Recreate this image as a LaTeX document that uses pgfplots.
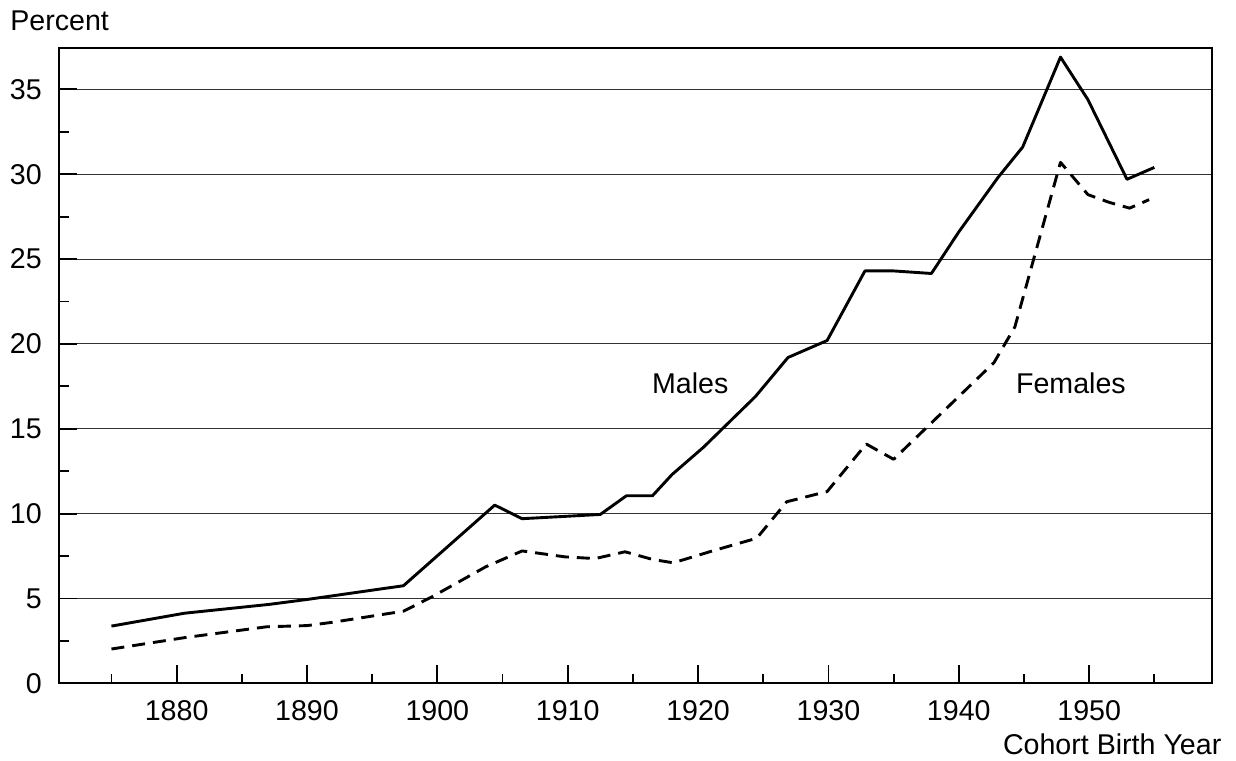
\documentclass[border=0pt]{standalone}
\usepackage{fontspec}
\setmainfont{Liberation Sans}
\usepackage{pgfplots}
\pgfplotsset{compat=1.18}
\begin{document}
\fontsize{14.3}{17}\selectfont
\begin{tikzpicture}
\begin{axis}[
  at={(0,0)}, anchor=south west,
  scale only axis, width=576.2pt, height=317.5pt,
  xmin=1871, xmax=1959.4, ymin=0, ymax=37.42,
  axis line style={line width=1pt},
  xtick={1880,1890,...,1950},
  minor xtick={1875,1885,...,1955},
  ytick={0,5,...,35},
  minor ytick={2.5,7.5,...,32.5},
  tick pos=left,
  tick align=inside,
  major tick length=9pt, minor tick length=4.6pt,
  tick style={black, line width=0.9pt},
  ymajorgrids=true,
  major grid style={black!80, line width=0.55pt},
  every tick label/.append style={inner sep=0pt, font=\fontsize{14.3}{17}\selectfont},
  /pgf/number format/assume math mode=true,
  x tick label style={/pgf/number format/1000 sep={}},
  xticklabel shift=8.3pt,
  yticklabel shift=8.6pt,
  clip=false,
]
\addplot[black, line width=1.45pt, line join=round] coordinates {
(1875,3.37) (1880.6,4.13) (1887.1,4.65) (1890,4.94) (1897.4,5.75)
(1904.4,10.5) (1906.5,9.7) (1912.5,9.95) (1914.5,11.05) (1916.5,11.05)
(1918,12.3) (1920.4,13.9) (1924.4,16.9) (1926.9,19.2) (1929.9,20.2)
(1932.8,24.3) (1935,24.3) (1937.9,24.15) (1940,26.6) (1943,29.8)
(1944.9,31.6) (1947.8,36.9) (1949.9,34.4) (1952.9,29.7) (1955,30.4)
};
\addplot[black, line width=1.45pt, line join=round, dash pattern=on 6.5pt off 4pt] coordinates {
(1875,2.02) (1880.6,2.69) (1886.9,3.33) (1890,3.4) (1892,3.6)
(1897.4,4.25) (1899.6,5.1) (1903.7,6.86) (1906.5,7.8) (1909.8,7.45)
(1912.1,7.35) (1914.4,7.75) (1916.5,7.3) (1918.1,7.1) (1921.1,7.8)
(1924.5,8.55) (1926.8,10.7) (1929.9,11.3) (1932.9,14.1) (1935,13.2)
(1942.7,18.9) (1944.3,21.0) (1947.8,30.7) (1949.9,28.8) (1951.5,28.35)
(1953.1,28.0) (1954.6,28.5)
};
\node[inner sep=0pt] at (axis cs:1919.4,17.7) {Males};
\node[inner sep=0pt] at (axis cs:1948.6,17.7) {Females};
\node[inner sep=0pt, anchor=base west] at (rel axis cs:-0.0428,1.0288) {Percent};
\node[inner sep=0pt, anchor=base east] at (rel axis cs:1.0087,-0.1129) {Cohort Birth Year};
\end{axis}
\pgfresetboundingbox
\path[use as bounding box] (-29.65pt,-38.35pt) rectangle (588.35pt,341.65pt);
\end{tikzpicture}
\end{document}
